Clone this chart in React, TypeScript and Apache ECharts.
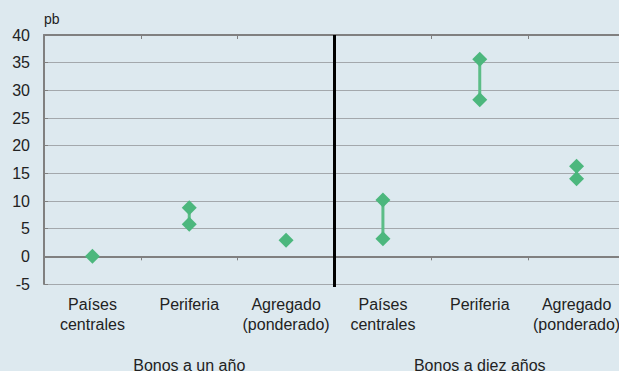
import React, { useEffect, useRef } from "react";
import * as echarts from "echarts";

const categories = [
  "Países\ncentrales",
  "Periferia",
  "Agregado\n(ponderado)",
  "Países\ncentrales",
  "Periferia",
  "Agregado\n(ponderado)",
];
const groups = ["Bonos a un año", "Bonos a diez años"];
const highValues: (number | null)[] = [0, 8.8, 2.9, 10.2, 35.6, 16.3];
const lowValues: (number | null)[] = [null, 5.8, null, 3.2, 28.3, 14.0];
const yTicks = { min: -5, max: 40, interval: 5 };

const GREEN = "#4cb77d";
const LINE_GREEN = "#5cbd87";
const FONT = "'Liberation Sans', Arial, Helvetica, sans-serif";

export default function App() {
  const ref = useRef<HTMLDivElement>(null);
  useEffect(() => {
    if (!ref.current) return;
    const chart = echarts.init(ref.current, null, { renderer: "svg" });
    const rangeData = categories
      .map((_, i) => [i, lowValues[i], highValues[i]])
      .filter((d) => d[1] != null && d[2] != null);
    chart.setOption({
      animation: false,
      backgroundColor: "#dde9ef",
      textStyle: { fontFamily: FONT },
      grid: {
        left: 44,
        width: 581,
        top: 35,
        height: 249,
        containLabel: false,
        outerBoundsMode: "none",
      },
      xAxis: [
        {
          type: "category",
          data: categories,
          boundaryGap: true,
          axisLine: { onZero: true, lineStyle: { color: "#808080", width: 2 } },
          axisTick: { show: true, length: 4, lineStyle: { color: "#808080", width: 1 } },
          axisLabel: {
            margin: 10,
            fontSize: 16,
            color: "#222",
            lineHeight: 20,
            fontFamily: FONT,
            interval: 0,
          },
          splitLine: { show: false },
        },
        {
          type: "category",
          data: groups,
          position: "bottom",
          boundaryGap: true,
          axisLine: { show: false, onZero: false },
          axisTick: { show: false },
          axisLabel: { margin: 73, fontSize: 16, color: "#222", fontFamily: FONT, interval: 0 },
          splitLine: { show: false },
        },
        {
          type: "category",
          data: categories,
          boundaryGap: true,
          axisLine: { show: true, onZero: true, lineStyle: { color: "#808080", width: 2 } },
          axisTick: { show: true, inside: true, length: 4, lineStyle: { color: "#808080", width: 1 } },
          axisLabel: { show: false },
          splitLine: { show: false },
        },
      ],
      yAxis: {
        type: "value",
        min: yTicks.min,
        max: yTicks.max,
        interval: yTicks.interval,
        name: "pb",
        nameLocation: "end",
        nameGap: 9,
        nameTextStyle: { align: "left", fontSize: 14, color: "#222", fontFamily: FONT, padding: [0, 0, 0, 0] },
        axisLine: { show: true, lineStyle: { color: "#808080", width: 2 } },
        axisTick: { show: true, inside: true, length: 4, lineStyle: { color: "#808080" } },
        axisLabel: { fontSize: 16, color: "#222", margin: 14, fontFamily: FONT },
        splitLine: { show: true, lineStyle: { color: "#a3a8ac", width: 1 } },
      },
      series: [
        {
          type: "custom",
          xAxisIndex: 0,
          renderItem: (params: any, api: any) => {
            const p1 = api.coord([api.value(0), api.value(1)]);
            const p2 = api.coord([api.value(0), api.value(2)]);
            return {
              type: "line",
              shape: { x1: p1[0], y1: p1[1], x2: p2[0], y2: p2[1] },
              style: { stroke: LINE_GREEN, lineWidth: 3 },
            };
          },
          encode: { x: 0, y: [1, 2] },
          data: rangeData,
          z: 2,
        },
        {
          type: "scatter",
          xAxisIndex: 0,
          symbol: "diamond",
          symbolSize: [15, 15],
          itemStyle: { color: GREEN, opacity: 1 },
          data: highValues,
          z: 3,
        },
        {
          type: "scatter",
          xAxisIndex: 0,
          symbol: "diamond",
          symbolSize: [15, 15],
          itemStyle: { color: GREEN, opacity: 1 },
          data: lowValues,
          z: 3,
        },
      ],
    });
    const xa = chart.convertToPixel({ xAxisIndex: 0 }, 2) as number;
    const xb = chart.convertToPixel({ xAxisIndex: 0 }, 3) as number;
    const yTop = chart.convertToPixel({ yAxisIndex: 0 }, yTicks.max) as number;
    const yBot = chart.convertToPixel({ yAxisIndex: 0 }, yTicks.min) as number;
    const xd = (xa + xb) / 2;
    chart.setOption({
      graphic: [
        {
          type: "line",
          shape: { x1: xd, y1: yTop, x2: xd, y2: yBot + 3 },
          style: { stroke: "#000", lineWidth: 3 },
          z: 10,
        },
      ],
    });
    return () => chart.dispose();
  }, []);
  return <div ref={ref} style={{ width: 619, height: 371, position: "fixed", left: 0, top: 0 }} />;
}
